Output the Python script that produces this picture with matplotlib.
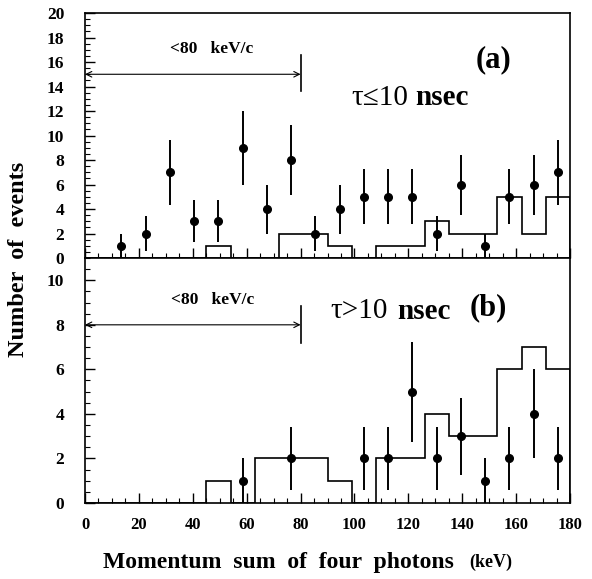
import numpy as np
import matplotlib
matplotlib.use("Agg")
import matplotlib.pyplot as plt
from matplotlib.ticker import MultipleLocator

plt.rcParams['font.family'] = ['Liberation Serif', 'DejaVu Serif']

# bin edges of the histograms (keV)
edges = [0, 9, 18, 27, 36, 45, 54, 63, 72, 81, 90, 99, 108, 117, 126, 135, 144, 153, 162, 171, 180]

# (a) tau <= 10 nsec
hist_a = [0, 0, 0, 0, 0, 1, 0, 0, 2, 2, 1, 0, 1, 1, 3, 2, 2, 5, 2, 5]
x_a = [13.5, 22.5, 31.5, 40.5, 49.5, 58.5, 67.5, 76.5, 85.5, 94.5, 103.5, 112.5,
       121.5, 130.5, 139.5, 148.5, 157.5, 166.5, 175.5]
y_a = [1, 2, 7, 3, 3, 9, 4, 8, 2, 4, 5, 5, 5, 2, 6, 1, 5, 6, 7]
err_a = [1.0, 1.41, 2.65, 1.73, 1.73, 3.0, 2.0, 2.83, 1.41, 2.0, 2.24, 2.24, 2.24,
         1.41, 2.45, 1.0, 2.24, 2.45, 2.65]

# (b) tau > 10 nsec
hist_b = [0, 0, 0, 0, 0, 1, 0, 2, 2, 2, 1, 0, 2, 2, 4, 3, 3, 6, 7, 6]
x_b = [58.5, 76.5, 103.5, 112.5, 121.5, 130.5, 139.5, 148.5, 157.5, 166.5, 175.5]
y_b = [1, 2, 2, 2, 5, 2, 3, 1, 2, 4, 2]
err_b = [1.0, 1.41, 1.41, 1.41, 2.24, 1.41, 1.73, 1.0, 1.41, 2.0, 1.41]

fig = plt.figure(figsize=(5.92, 5.79), dpi=100)
ax_a = fig.add_axes([0.1436, 0.5544, 0.8193, 0.4231])
ax_b = fig.add_axes([0.1436, 0.1313, 0.8193, 0.4231], sharex=ax_a)


def draw_panel(ax, hist, xs, ys, errs, ymax, arrow_y, bar_lo, bar_hi):
    ax.stairs(hist, edges, color='black', lw=1.2, baseline=0)
    ax.errorbar(xs, ys, yerr=errs, fmt='o', color='black', ms=5.5, elinewidth=1.4, capsize=0)
    ax.set_xlim(0, 180)
    ax.set_ylim(0, ymax)
    ax.xaxis.set_major_locator(MultipleLocator(20))
    ax.xaxis.set_minor_locator(MultipleLocator(5))
    ax.yaxis.set_major_locator(MultipleLocator(2))
    ax.yaxis.set_minor_locator(MultipleLocator(0.5))
    ax.tick_params(which='both', direction='in', top=False, right=False)
    ax.tick_params(which='major', length=7, width=1.0)
    ax.tick_params(which='minor', length=3.5, width=0.8)
    ax.tick_params(axis='y', pad=15, labelsize=12.5)
    ax.tick_params(axis='x', pad=10, labelsize=12)
    for lab in ax.get_yticklabels() + ax.get_xticklabels():
        lab.set_fontweight('bold')
    for sp in ax.spines.values():
        sp.set_linewidth(1.2)
    # <80 keV/c marker
    ax.annotate('', xy=(0, arrow_y), xytext=(80, arrow_y),
                arrowprops=dict(arrowstyle='<->', color='black', lw=0.8,
                                shrinkA=0, shrinkB=0, mutation_scale=10))
    ax.plot([80, 80], [bar_lo, bar_hi], color='black', lw=1.2)


draw_panel(ax_a, hist_a, x_a, y_a, err_a, 20, 15, 13.6, 16.6)
draw_panel(ax_b, hist_b, x_b, y_b, err_b, 11, 8, 7.2, 8.85)
ax_b.set_yticks([0, 2, 4, 6, 8, 10])
for lab in ax_b.get_yticklabels():
    lab.set_fontweight('bold')
plt.setp(ax_a.get_xticklabels(), visible=False)

ax_a.text(47, 17.1, '<80   keV/c', fontsize=12.5, fontweight='bold', ha='center', va='center')
ax_b.text(47.5, 9.1, '<80   keV/c', fontsize=12.5, fontweight='bold', ha='center', va='center')

ax_a.text(151.5, 16.2, '(a)', fontsize=22, fontweight='bold', ha='center', va='center')
ax_b.text(149.5, 8.75, '(b)', fontsize=22, fontweight='bold', ha='center', va='center')

ax_a.text(119.9, 13.1, 'τ≤10', fontsize=21, ha='right', va='center')
ax_a.text(122.5, 13.1, 'nsec', fontsize=21, fontweight='bold', ha='left', va='center')
ax_b.text(112.5, 8.6, 'τ>10', fontsize=21, ha='right', va='center')
ax_b.text(115.8, 8.6, 'nsec', fontsize=21, fontweight='bold', ha='left', va='center')

fig.text(0.032, 0.552, 'Number  of  events', rotation=90, fontsize=17.5, fontweight='bold',
         ha='center', va='center')
fig.text(0.174, 0.028, 'Momentum  sum  of  four  photons', fontsize=17, fontweight='bold',
         ha='left', va='center')
fig.text(0.792, 0.028, '(keV)', fontsize=13, fontweight='bold', ha='left', va='center')

fig.savefig('out.png', dpi=100)
